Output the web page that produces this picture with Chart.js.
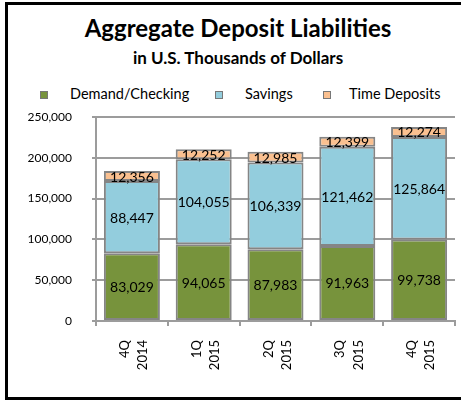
<!DOCTYPE html>
<html>
<head>
<meta charset="utf-8">
<script src="https://cdn.jsdelivr.net/npm/chart.js@4"></script>
<style>
  html, body { margin: 0; background: #fff; font-family: Lato, sans-serif; overflow: hidden; width: 461px; height: 402px; }
  .edge { position: absolute; background: #000; }
  #edgeTop { left: 5px; top: 2px; width: 456px; height: 3px; }
  #edgeLeft { left: 5px; top: 2px; width: 3px; height: 398px; }
  #edgeBottom { left: 5px; top: 397px; width: 456px; height: 3px; }
  .title { position: absolute; left: 0; width: 476px; text-align: center; font-weight: bold; color: #000; line-height: normal; white-space: nowrap; }
  #t1 { top: 13px; font-size: 24px; }
  #t2 { top: 47px; font-size: 17px; }
  .legtxt { position: absolute; top: 85px; font-size: 14.5px; color: #000; line-height: normal; white-space: nowrap; }
  .legbox { position: absolute; top: 91px; width: 6px; height: 6px; border: 1px solid #777; }
  #wrap { position: absolute; left: 7px; top: 105px; width: 454px; height: 290px; }
</style>
</head>
<body>
<div class="edge" id="edgeTop"></div>
<div class="edge" id="edgeLeft"></div>
<div class="edge" id="edgeBottom"></div>
<div class="title" id="t1">Aggregate Deposit Liabilities</div>
<div class="title" id="t2">in U.S. Thousands of Dollars</div>
<div id="legend"></div>
<div id="wrap"><canvas id="chart"></canvas></div>
<script>
const quarters = [["4Q", "2014"], ["1Q", "2015"], ["2Q", "2015"], ["3Q", "2015"], ["4Q", "2015"]];
const demandChecking = [83029, 94065, 87983, 91963, 99738];
const savings = [88447, 104055, 106339, 121462, 125864];
const timeDeposits = [12356, 12252, 12985, 12399, 12274];
const seriesNames = ["Demand/Checking", "Savings", "Time Deposits"];
const seriesColors = ["#77933C", "#93CDDD", "#FAC090"];

// Legend (HTML): box x, text x
const legendX = [[40, 70], [215, 245], [323, 349]];
const legendEl = document.getElementById("legend");
seriesNames.forEach((name, i) => {
    const box = document.createElement("div");
    box.className = "legbox";
    box.style.left = legendX[i][0] + "px";
    box.style.background = seriesColors[i];
    legendEl.appendChild(box);
    const txt = document.createElement("div");
    txt.className = "legtxt";
    txt.style.left = legendX[i][1] + "px";
    txt.textContent = name;
    legendEl.appendChild(txt);
});

// Value labels centred in each segment
const segmentLabels = {
    id: "segmentLabels",
    afterDatasetsDraw(chart) {
        const ctx = chart.ctx;
        ctx.save();
        ctx.font = "14px Lato";
        ctx.fillStyle = "#000";
        ctx.textAlign = "center";
        ctx.textBaseline = "middle";
        chart.data.datasets.forEach((ds, i) => {
            chart.getDatasetMeta(i).data.forEach((bar, j) => {
                const p = bar.getProps(["x", "y", "base"], true);
                ctx.fillText(ds.data[j].toLocaleString("en-US"), p.x, (p.y + p.base) / 2 + 1);
            });
        });
        ctx.restore();
    }
};

const gridGray = "#9c9c9c";

new Chart(document.getElementById("chart"), {
    type: "bar",
    data: {
        labels: quarters,
        datasets: [
            { label: seriesNames[0], data: demandChecking, backgroundColor: seriesColors[0] },
            { label: seriesNames[1], data: savings, backgroundColor: seriesColors[1] },
            { label: seriesNames[2], data: timeDeposits, backgroundColor: seriesColors[2] }
        ].map(d => Object.assign(d, {
            borderColor: "#858585",
            borderWidth: 2,
            borderSkipped: false,
            barPercentage: 0.78,
            categoryPercentage: 1
        }))
    },
    options: {
        responsive: true,
        maintainAspectRatio: false,
        animation: false,
        layout: { padding: { top: 12, right: 6, left: 0, bottom: 0 } },
        plugins: {
            legend: { display: false },
            title: { display: false },
            tooltip: { enabled: false }
        },
        scales: {
            x: {
                stacked: true,
                grid: { display: true, drawOnChartArea: false, color: gridGray, lineWidth: 2, tickLength: 5, offset: true },
                border: { color: gridGray, width: 2 },
                ticks: {
                    minRotation: 90,
                    maxRotation: 90,
                    padding: 14,
                    labelOffset: -7,
                    color: "#000",
                    font: { family: "Lato", size: 13, lineHeight: 1.4 }
                },
                afterFit(scale) {
                    scale.height = 74;
                    scale.paddingLeft = 0;
                    scale.paddingRight = 0;
                }
            },
            y: {
                stacked: true,
                min: 0,
                max: 250000,
                grid: { color: gridGray, lineWidth: 2, tickLength: 4 },
                border: { color: gridGray, width: 2 },
                ticks: {
                    stepSize: 50000,
                    padding: 20,
                    color: "#000",
                    font: { family: "Lato", size: 12 },
                    callback: v => v.toLocaleString("en-US")
                },
                afterFit(scale) {
                    scale.width = 89;
                    scale.paddingTop = 0;
                    scale.paddingBottom = 0;
                }
            }
        }
    },
    plugins: [segmentLabels]
});
</script>
</body>
</html>
